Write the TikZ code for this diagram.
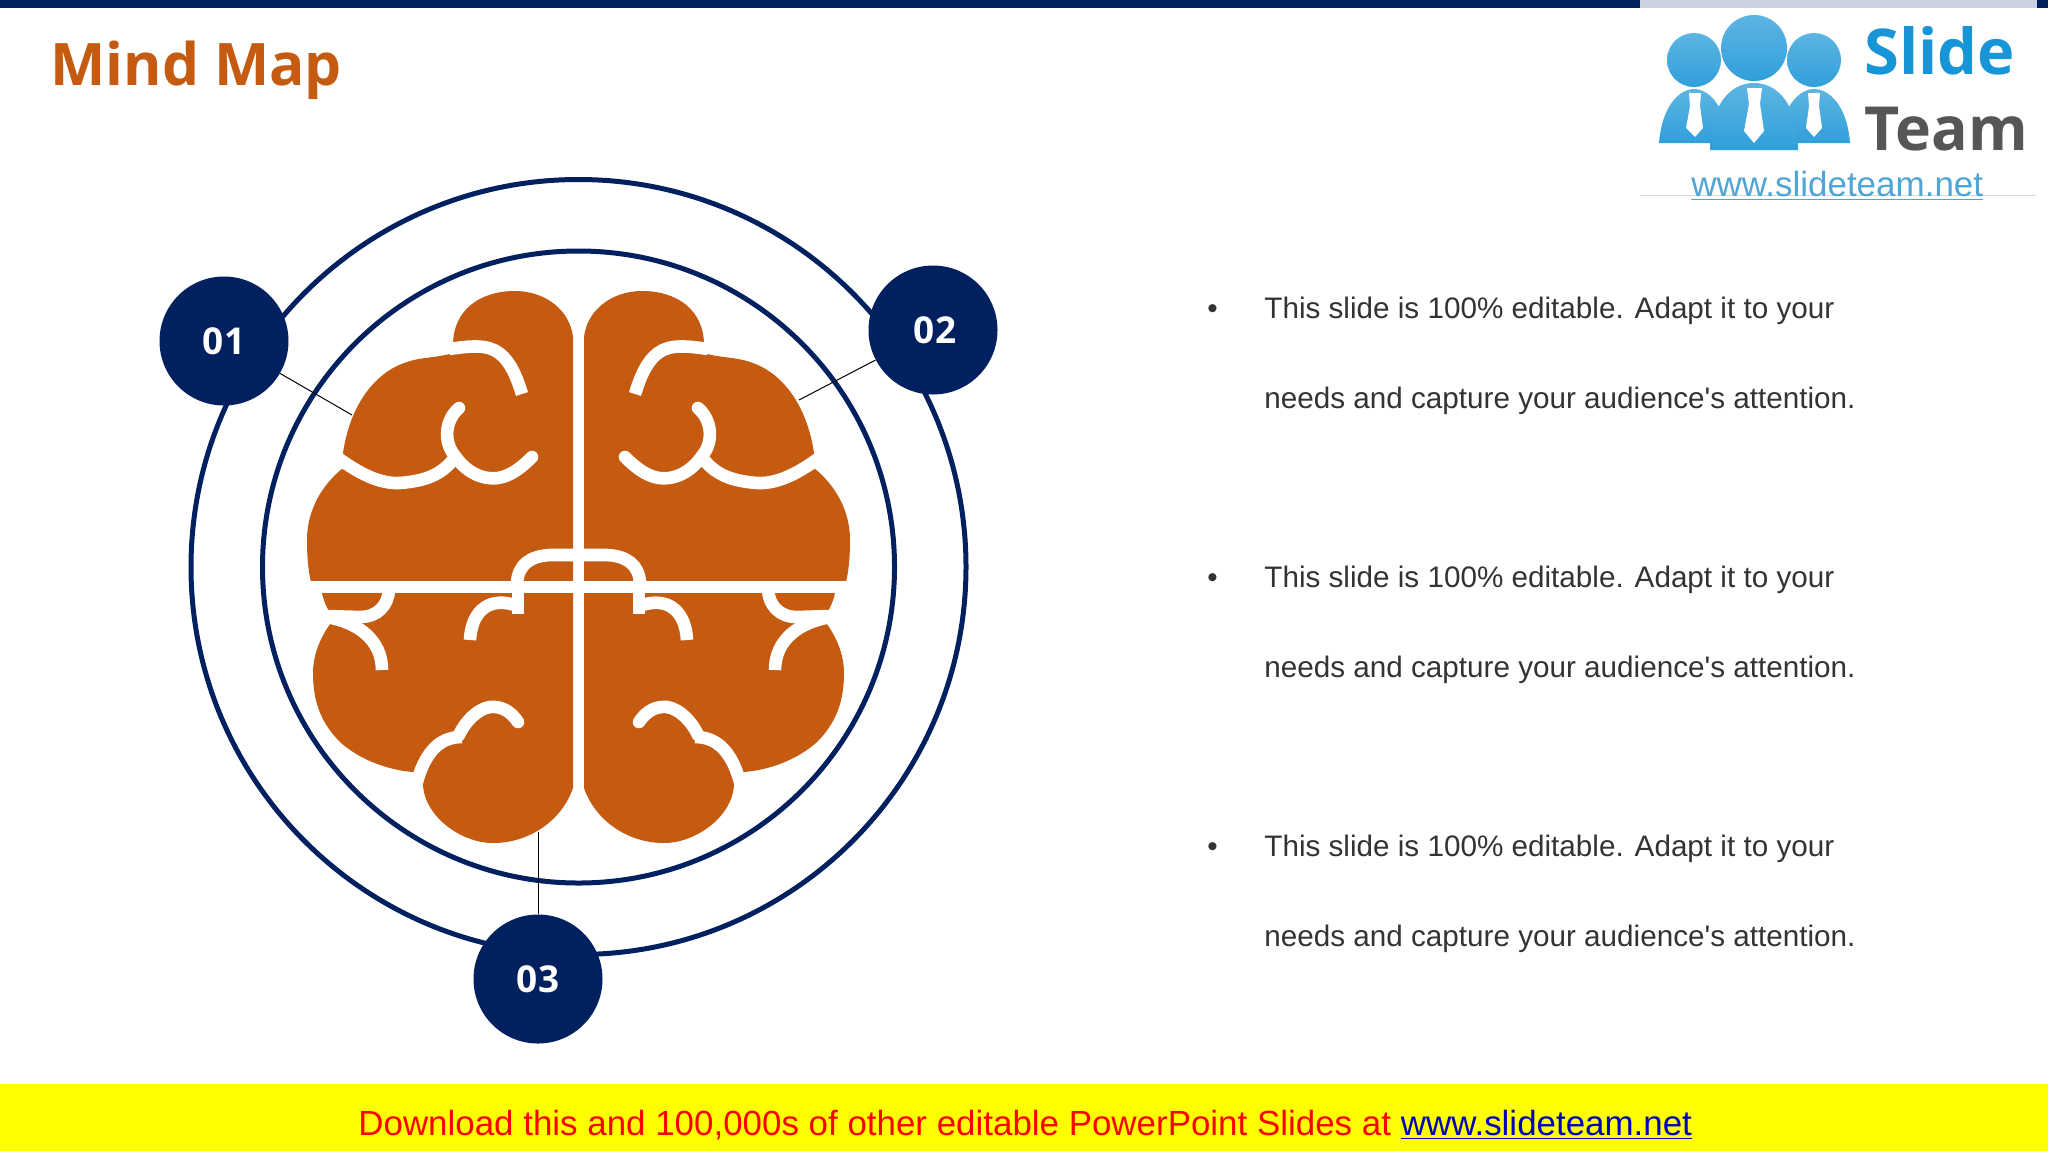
\documentclass[tikz,border=0pt]{standalone}
\usepackage{fontspec}
\setmainfont{Liberation Sans}
\newfontfamily\headfont{Open Sans}
\definecolor{mapnavy}{HTML}{002060}
\definecolor{maporange}{HTML}{C55A11}
\definecolor{logoblue}{HTML}{1895D6}
\definecolor{logogrey}{HTML}{565656}
\definecolor{linkblue}{HTML}{4FA5D5}
\definecolor{bandyellow}{HTML}{FFFF00}
\tikzset{
	ring/.style = {circle, draw=mapnavy, line width=2.5pt, minimum size=#1, inner sep=0pt},
	badge/.style = {circle, fill=mapnavy, text=white, minimum size=64.5pt, inner sep=0pt, font=\headfont\bfseries\fontsize{18.5}{20}\selectfont},
	leader/.style = {black, line width=0.5pt},
	groove/.style = {white, line width=6.3pt},
	bodyline/.style = {anchor=base west, text=black!80, font=\fontsize{14.83}{18}\selectfont, inner sep=0pt},
	person/.style = {top color=logoblue!70!white, bottom color=logoblue!90!white},
	tie/.style = {fill=white},
	halfbrain/.pic = {
		% Umriss
		\fill[maporange] (573,345) -- (573,337) .. controls (570,310) and (545,291) .. (515,291)
			.. controls (480,291) and (453,310) .. (453,345)
			-- (453,353) .. controls (437,358) and (421,357) .. (407,362)
			.. controls (375,372) and (350,405) .. (343,453)
			-- (343,468) .. controls (322,485) and (307,510) .. (307,540)
			.. controls (307,555) and (308,570) .. (311,582)
			-- (322,593) .. controls (324,602) and (327,608) .. (330,613)
			-- (333,620) .. controls (320,637) and (313,655) .. (313,673)
			.. controls (313,700) and (320,722) .. (340,742)
			.. controls (360,760) and (388,770) .. (413,772)
			-- (423,783) .. controls (423,815) and (460,843) .. (493,843)
			.. controls (530,843) and (562,820) .. (573,788) -- cycle;
		% Furchen
		\draw[groove] (449,349) .. controls (470,346) and (487,344) .. (499,353) .. controls (511,362) and (517,378) .. (522,394);
		\draw[groove] (338,458) .. controls (360,474) and (380,484) .. (400,483) .. controls (425,481) and (440,475) .. (452,461);
		\draw[groove, line cap=round] (459,408) .. controls (445,420) and (443,442) .. (455,456) .. controls (466,472) and (482,480) .. (498,478) .. controls (511,476) and (522,467) .. (532,457);
		\draw[groove] (517,583) .. controls (518,565) and (530,556) .. (550,555) -- (575,555);
		\draw[groove] (470,640) .. controls (471,620) and (480,605) .. (497,603) .. controls (505,602) and (512,604) .. (518,606);
		\draw[groove] (518,590) -- (518,614);
		\draw[groove] (389,590) .. controls (388,605) and (378,617) .. (360,617) -- (326,616);
		\draw[groove] (326,617) .. controls (358,622) and (382,640) .. (382,670);
		\draw[groove, line cap=round] (518,722) .. controls (510,710) and (500,706) .. (490,707) .. controls (477,709) and (465,722) .. (459,735);
		\draw[groove] (462,737) .. controls (445,737) and (425,745) .. (415,790);
	}
}
\begin{document}
\begin{tikzpicture}[x=0.5pt, y=-0.5pt]
	\useasboundingbox (0,0) rectangle (2048,1152);

	% Rahmen
	\fill[white] (0,0) rectangle (2048,1152);
	\fill[mapnavy] (0,0) rectangle (2048,8);
	\fill[mapnavy!20] (1640,0) rectangle (2037,8);
	\fill[bandyellow] (0,1084) rectangle (2048,1151);

	\node[anchor=base west, inner sep=0pt, text=maporange, font=\headfont\bfseries\fontsize{29.3}{32}\selectfont] (title) at (50,85) {Mind Map};

	% Logo
	\draw[black!15, line width=0.5pt] (1640,195) coordinate (logoleft) -- (2036,195) coordinate (logoright);
	\foreach \x/\s in {1694/27, 1814/27} {
		\shade[person] (\x,60) circle[radius=\s*0.5pt];
	}
	\shade[person] (1659,143) .. controls (1662,105) and (1680,89) .. (1694,89) .. controls (1708,89) and (1726,105) .. (1729,143) -- cycle;
	\shade[person] (1850,143) .. controls (1847,105) and (1829,89) .. (1814,89) .. controls (1800,89) and (1782,105) .. (1779,143) -- cycle;
	\shade[person] (1754,48) circle[radius=16.5pt];
	\shade[person] (1710,150) .. controls (1710,105) and (1730,83) .. (1754,83) .. controls (1778,83) and (1798,105) .. (1798,150) -- cycle;
	\fill[tie] (1747,88) -- (1762,88) -- (1760,104) -- (1764,131) -- (1754,143) -- (1744,131) -- (1749,104) -- cycle;
	\fill[tie] (1689,93) -- (1701,93) -- (1700,106) -- (1703,128) -- (1695,137) -- (1686,128) -- (1690,106) -- cycle;
	\fill[tie] (1808,93) -- (1820,93) -- (1819,106) -- (1822,128) -- (1814,137) -- (1806,128) -- (1809,106) -- cycle;
	\node[anchor=base west, inner sep=0pt, text=logoblue, font=\headfont\bfseries\fontsize{31.6}{34}\selectfont] (logoslide) at (1864,74) {Slide};
	\node[anchor=base west, inner sep=0pt, text=logogrey, font=\headfont\bfseries\fontsize{30.4}{32}\selectfont] (logoteam) at (1864,150) {Team};
	\node[anchor=base west, inner sep=0pt, text=linkblue, font=\fontsize{17.5}{20}\selectfont] (logolink) at (1691,196) {\underline{www.slideteam.net}};

	% Ringe
	\node[ring=387.5pt] (outerring) at (578.5,567) {};
	\node[ring=316pt] (innerring) at (578.5,567) {};

	% Gehirn
	\pic at (0,0) {halfbrain};
	\pic[xscale=-1] at (1157,0) {halfbrain};
	\draw[white, line width=6pt] (296,587) -- (861,587);

	\coordinate (brainA) at (352,415);
	\coordinate (brainB) at (799,400);
	\coordinate (brainC) at (538,832);

	% Kreise
	\node[badge] (one) at (224,341) {\raisebox{-1.2pt}{01}};
	\node[badge] (two) at (933,330) {\raisebox{-1.2pt}{\hspace{2pt}02}};
	\node[badge] (three) at (538,979) {\raisebox{-0.6pt}{03}};

	% Linien
	\draw[leader] (one) -- (brainA);
	\draw[leader] (two) -- (brainB);
	\draw[leader] (three) -- (brainC);

	% Text
	\foreach \n/\y in {1/318, 2/587, 3/856} {
		\node[bodyline] (bullet\n) at (1207,\y) {•};
		\node[bodyline] (first\n) at (1264,\y) {This slide is 100\% editable. Adapt it to your};
		\node[bodyline] (second\n) at (1264,\y+90) {needs and capture your audience\textquotesingle s attention.};
	}

	\node[anchor=base west, inner sep=0pt, text=red, font=\fontsize{17.46}{20}\selectfont] (download) at (358,1135) {Download this and 100,000s of other editable PowerPoint Slides at \textcolor{blue!75!black}{\underline{www.slideteam.net}}};
\end{tikzpicture}
\end{document}
